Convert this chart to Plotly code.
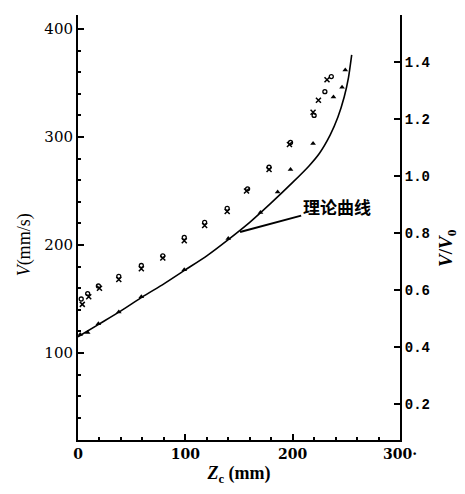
import plotly.graph_objects as go

# Theoretical curve (理论曲线)
curve_z = [0, 20, 40, 60, 80, 100, 120, 140, 160, 180, 200, 215, 225, 235, 242, 248, 252, 255]
curve_v = [115, 127, 139, 152, 164, 177, 190, 205, 221, 239, 258, 273, 285, 302, 318, 337, 355, 376]

# Measured series: triangles (near curve)
tri_z = [2, 9, 19, 38, 59, 99, 140, 170, 186, 198, 219, 238, 246, 249]
tri_v = [117, 119, 127, 138, 152, 177, 206, 230, 249, 270, 294, 337, 346, 362]

# Measured series: crosses
x_z = [4, 10, 20, 38, 59, 79, 99, 118, 139, 157, 178, 197, 219, 224, 232]
x_v = [145, 152, 160, 168, 178, 188, 204, 218, 231, 250, 270, 293, 323, 334, 353]

# Measured series: circles
o_z = [3, 9, 19, 38, 59, 79, 99, 118, 139, 158, 178, 198, 220, 230, 236]
o_v = [150, 155, 162, 171, 181, 190, 207, 221, 234, 252, 272, 295, 320, 342, 356]

x_ticks = [0, 100, 200, 300]
x_labels = ["0", "100", "200", "300·"]
y_ticks = [100, 200, 300, 400]
y2_ticks = [0.2, 0.4, 0.6, 0.8, 1.0, 1.2, 1.4]
y2_labels = ["0.2", "0.4", "0.6", "0.8", "1.0", "1.2", "1.4"]

fig = go.Figure()
fig.add_trace(go.Scatter(x=curve_z, y=curve_v, mode="lines",
                         line=dict(color="black", width=1.6, shape="spline", smoothing=0.6),
                         showlegend=False))
fig.add_trace(go.Scatter(x=tri_z, y=tri_v, mode="markers",
                         marker=dict(symbol="triangle-up", size=5, color="black"),
                         showlegend=False))
fig.add_trace(go.Scatter(x=x_z, y=x_v, mode="markers",
                         marker=dict(symbol="x-thin", size=5, color="black",
                                     line=dict(color="black", width=1.5)),
                         showlegend=False))
fig.add_trace(go.Scatter(x=o_z, y=o_v, mode="markers",
                         marker=dict(symbol="circle-open", size=4, color="black",
                                     line=dict(color="black", width=1.3)),
                         showlegend=False))
# dummy trace for right axis
fig.add_trace(go.Scatter(x=[None], y=[None], yaxis="y2", showlegend=False))

serif = "DejaVu Serif"
fig.update_layout(
    width=457, height=486,
    margin=dict(l=70, r=65, t=7, b=54),
    plot_bgcolor="white", paper_bgcolor="white",
    font=dict(family=serif, color="black", size=15),
    xaxis=dict(range=[0, 300], tickvals=x_ticks, ticktext=x_labels,
               showgrid=False, zeroline=False, showline=True,
               linecolor="black", linewidth=2, ticks="inside", ticklen=6,
               tickwidth=1.5, tickcolor="black",
               minor=dict(dtick=20, tick0=0, ticks="inside", ticklen=3,
                          tickcolor="black", showgrid=False),
               tickfont=dict(family=serif, size=14, weight="bold"),
               title=dict(text="<i>Z</i><sub>c</sub> (mm)",
                          font=dict(family="Liberation Serif", size=18, weight="bold"),
                          standoff=6)),
    yaxis=dict(range=[19.4, 413], tickvals=y_ticks,
               showgrid=False, zeroline=False, showline=True,
               linecolor="black", linewidth=2, ticks="inside", ticklen=6,
               tickwidth=1.5, tickcolor="black",
               minor=dict(dtick=20, tick0=0, ticks="inside", ticklen=3,
                          tickcolor="black", showgrid=False),
               tickfont=dict(family=serif, size=15)),
    yaxis2=dict(range=[0.074, 1.565], overlaying="y", side="right",
                tickvals=y2_ticks, ticktext=y2_labels,
                showgrid=False, zeroline=False, showline=True,
                linecolor="black", linewidth=2, ticks="inside", ticklen=6,
                tickwidth=1.5, tickcolor="black",
                tickfont=dict(family="Liberation Mono", size=14, weight="bold")),
    annotations=[
        dict(x=151, y=212, xref="x", yref="y",
             ax=241, ay=236, axref="x", ayref="y",
             text="理论曲线", showarrow=True, arrowhead=0,
             arrowwidth=2, arrowcolor="black",
             font=dict(family="Noto Sans CJK SC", size=17, color="black",
                       weight="bold")),
        dict(x=-0.165, y=0.46, xref="paper", yref="paper",
             text="<i>V</i>(mm/s)", showarrow=False, textangle=-90,
             xanchor="center", yanchor="middle",
             font=dict(family="Liberation Serif", size=18, color="black")),
        dict(x=1.146, y=0.452, xref="paper", yref="paper",
             text="<i>V</i>/<i>V</i><sub>0</sub>", showarrow=False, textangle=-90,
             xanchor="center", yanchor="middle",
             font=dict(family="Liberation Serif", size=19, color="black",
                       weight="bold")),
    ],
)

fig.write_html("out.html")
